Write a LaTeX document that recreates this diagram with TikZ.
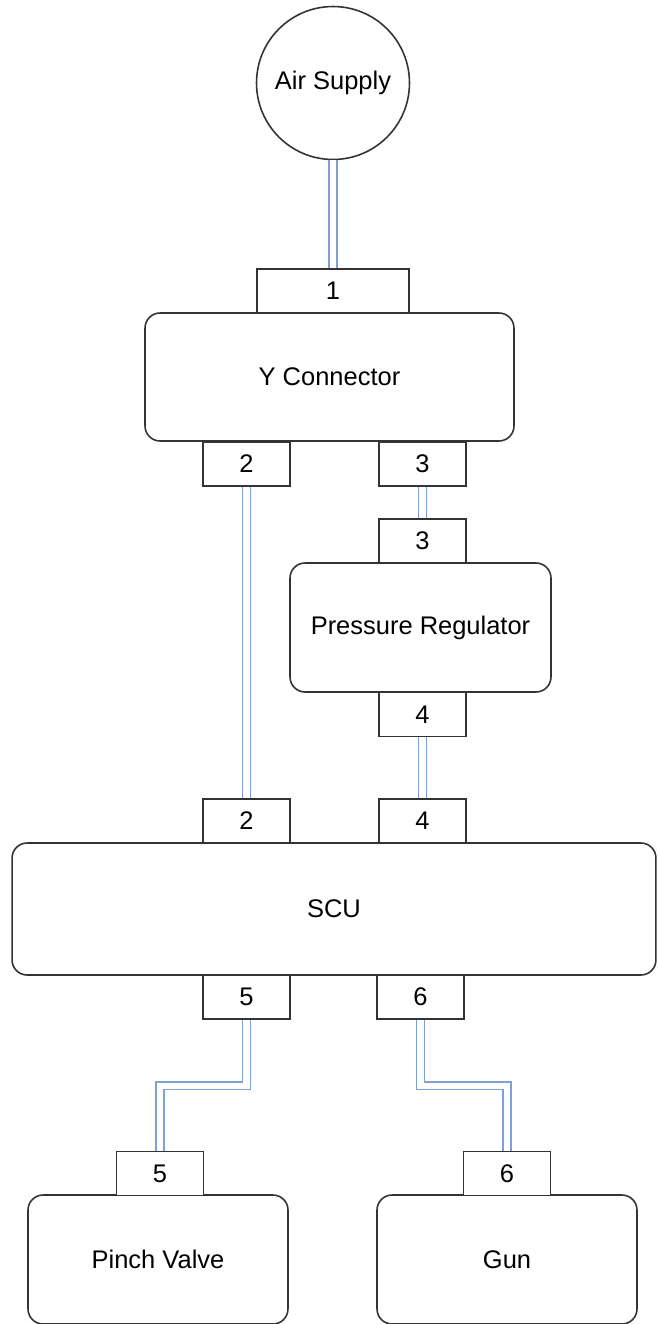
\documentclass[tikz,border=0pt]{standalone}
\usepackage{fontspec}
\setmainfont{Liberation Sans}
\usetikzlibrary{shapes,arrows,positioning,calc}

\definecolor{pipeblue}{RGB}{126,160,214}

\begin{document}
\begin{tikzpicture}[
    x=0.02cm, y=-0.02cm,
    every node/.style={font=\fontsize{14.5}{17}\selectfont},
    box/.style={rectangle, rounded corners=0.3cm, draw=black!80, fill=white, line width=0.9pt, inner sep=0pt},
    port/.style={rectangle, draw=black!80, fill=white, line width=0.9pt, minimum width=1.74cm, minimum height=0.88cm, inner sep=0pt},
    pipe/.style={draw=pipeblue, line width=0.8pt, double=white, double distance=0.13cm}
]
\useasboundingbox (0,0) rectangle (657,1324);

% Source
\node[circle, draw=black!80, fill=white, line width=0.9pt, minimum size=3.06cm, inner sep=0pt] (air) at (333, 83) {Air Supply};

% Y connector and its ports
\node[box, minimum width=7.38cm, minimum height=2.56cm] (yconn) at (329.5, 377) {Y Connector};
\node[port, minimum width=3.04cm] (yport1) at (333, 291) {1};
\node[port] (yport2) at (246.5, 464) {2};
\node[port] (yport3) at (422.5, 464) {3};

% Regulator
\node[box, minimum width=5.22cm, minimum height=2.58cm] (reg) at (420.5, 627.5) {Pressure Regulator};
\node[port] (regport3) at (422.5, 541) {3};
\node[port] (regport4) at (422.5, 714.5) {4};

% SCU
\node[box, minimum width=12.88cm, minimum height=2.64cm] (scu) at (334, 909) {SCU};
\node[port] (scuport2) at (246.5, 821) {2};
\node[port] (scuport4) at (422.5, 821) {4};
\node[port] (scuport5) at (246.5, 997) {5};
\node[port] (scuport6) at (420.5, 997) {6};

% Outputs
\node[box, minimum width=5.2cm, minimum height=2.58cm] (valve) at (158, 1259.5) {Pinch Valve};
\node[port] (valveport5) at (160, 1173.5) {5};
\node[box, minimum width=5.2cm, minimum height=2.58cm] (gun) at (507, 1259.5) {Gun};
\node[port] (gunport6) at (507, 1173.5) {6};

% Air lines
\draw[pipe] (air.south) -- (yport1.north);
\draw[pipe] (yport2.south) -- (scuport2.north);
\draw[pipe] (yport3.south) -- (regport3.north);
\draw[pipe] (regport4.south) -- (scuport4.north);
\draw[pipe] (scuport5.south) -- ++(0,66) -| (valveport5.north);
\draw[pipe] (scuport6.south) -- ++(0,66) -| (gunport6.north);

\end{tikzpicture}
\end{document}
